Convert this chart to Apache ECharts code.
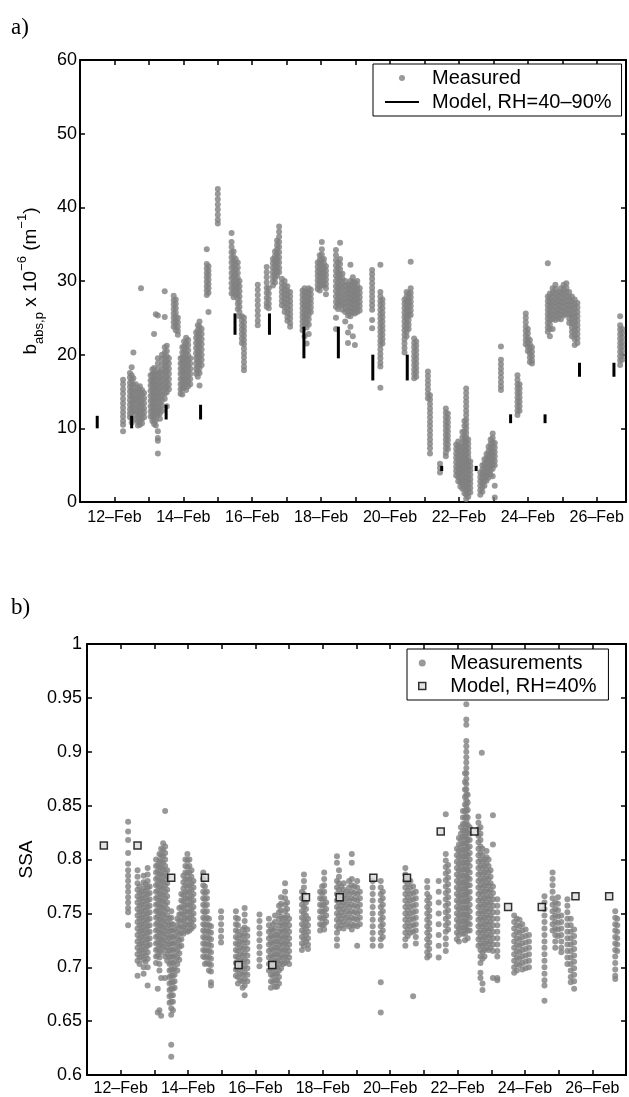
<!DOCTYPE html>
<html><head><meta charset="utf-8">
<script src="https://cdn.jsdelivr.net/npm/echarts@6/dist/echarts.min.js"></script>
<style>html,body{margin:0;padding:0;background:#fff}#c{width:629px;height:1097px}</style>
</head><body><div id="c"></div><script>
// ---------- tick labels ----------
const dateTicks = [12, 14, 16, 18, 20, 22, 24, 26];
const dateLabels = ['12–Feb', '14–Feb', '16–Feb', '18–Feb', '20–Feb', '22–Feb', '24–Feb', '26–Feb'];

// ---------- panel a: measured b_abs,p (each row: [day of Feb, y1, y2, ...]) ----------
const absFeb12to14 = [
  [12.25, 16.6, 16.0, 15.3, 14.7, 14.0, 13.4, 12.8, 12.2, 11.6, 11.0, 10.5, 9.6],
  [12.45, 17.5, 16.9, 16.2, 15.6, 15.0, 14.4, 13.8, 13.2, 12.6, 12.0, 11.5],
  [12.50, 18.3, 17.2, 16.5, 15.8, 15.1, 14.3, 13.5, 12.8, 12.1, 11.4, 10.8],
  [12.55, 20.3, 16.8, 15.9, 15.1, 14.4, 13.7, 13.0, 12.3],
  [12.62, 16.0, 15.2, 14.5, 13.9, 13.2, 12.5, 11.9, 11.2],
  [12.68, 15.5, 14.9, 14.2, 13.6, 12.9, 12.3, 11.6, 10.9, 10.4],
  [12.74, 15.7, 15.0, 14.3, 13.6, 13.0, 12.4, 11.8, 11.1, 10.5],
  [12.77, 29.0],
  [12.80, 15.2, 14.6, 13.9, 13.2, 12.6, 11.9, 11.3, 10.7],
  [12.86, 14.8, 14.1, 13.4, 12.7, 12.1, 11.5],
  [13.05, 17.2, 16.5, 15.8, 15.1, 14.4, 13.7, 13.0, 12.3, 11.6],
  [13.10, 18.0, 17.3, 16.6, 15.9, 15.2, 14.5, 13.8, 13.1, 12.4, 11.7, 11.0],
  [13.15, 22.8, 18.2, 17.5, 16.8, 16.1, 15.4, 14.7, 14.0, 13.3, 12.6, 11.9, 11.2, 10.6],
  [13.20, 25.5, 17.4, 16.7, 16.0, 15.3, 14.6, 13.9, 13.2, 12.5, 11.8, 11.1, 10.4],
  [13.26, 25.3, 19.5, 18.8, 18.1, 17.4, 16.7, 16.0, 15.3, 14.6, 13.9, 13.2, 12.5, 11.8, 9.6, 8.7, 8.3, 6.6],
  [13.32, 17.6, 16.9, 16.2, 15.5, 14.8, 14.1, 13.4, 12.7, 12.0, 11.3],
  [13.38, 20.0, 19.4, 18.7, 18.0, 17.3, 16.6, 15.9, 15.2, 14.5, 13.8, 13.1, 12.4],
  [13.46, 28.6, 25.1, 21.0, 20.3, 19.6, 18.9, 18.2, 17.5, 16.8, 16.1, 15.4, 14.7, 14.0],
  [13.52, 21.2, 20.5, 19.8, 19.1, 18.4, 17.7, 17.0, 16.3, 15.6, 14.9, 13.0],
  [13.58, 19.5, 18.8, 18.1, 17.4, 16.7, 16.0, 15.3],
  [13.72, 28.0, 27.4, 26.8, 26.2, 25.6, 25.0, 24.4, 23.8],
  [13.78, 27.5, 26.9, 26.3, 25.7, 25.1, 24.5, 23.9, 23.3],
  [13.84, 25.0, 24.4, 23.8, 23.2, 22.7],
  [13.92, 19.5, 18.8, 18.1, 17.4, 16.7, 16.0, 15.3, 14.7],
  [13.97, 21.0, 20.3, 19.6, 18.9, 18.2, 17.5, 16.8, 16.1, 15.4, 14.6],
  [14.02, 21.8, 21.1, 20.4, 19.7, 19.0, 18.3, 17.6, 16.9, 16.2, 15.5],
  [14.08, 22.3, 21.6, 20.9, 20.2, 19.5, 18.8, 18.1, 17.4, 16.7, 16.0, 15.2],
  [14.14, 22.0, 21.3, 20.6, 19.9, 19.2, 18.5, 17.8, 17.1, 16.4, 15.7],
  [14.20, 19.5, 18.8, 18.1, 17.4, 16.7, 16.0]
];
const absFeb14to17 = [
  [14.37, 23.0, 22.3, 21.6, 20.9, 20.2, 19.5, 18.8, 18.1, 17.4],
  [14.42, 24.0, 23.3, 22.6, 21.9, 21.2, 20.5, 19.8, 19.1, 18.4, 17.7, 17.0],
  [14.47, 24.5, 23.8, 23.1, 22.4, 21.7, 21.0, 20.3, 19.6, 18.9, 18.2, 17.5, 15.8],
  [14.53, 23.5, 22.8, 22.1, 21.4, 20.7, 20.0, 19.3, 18.6],
  [14.68, 34.3, 32.3, 31.7, 31.1, 30.5, 29.9, 29.3, 28.7, 28.1],
  [14.73, 32.0, 31.4, 30.8, 30.2, 29.6, 29.0, 28.4, 25.8],
  [15.00, 42.5, 41.8, 41.1, 40.4, 39.7, 39.0, 38.3, 37.8],
  [15.40, 36.5, 35.3, 34.6, 33.9, 33.2, 32.5, 31.8, 31.1, 30.4, 29.7, 29.0, 28.3],
  [15.46, 34.0, 33.3, 32.6, 31.9, 31.2, 30.5, 29.8, 29.1, 28.4, 27.8],
  [15.52, 33.0, 32.3, 31.6, 30.9, 30.2, 29.5, 28.8, 28.1],
  [15.58, 32.5, 31.8, 31.1, 30.4, 29.7, 29.0, 28.3, 27.6, 26.9, 26.2],
  [15.63, 30.0, 29.3, 28.6, 27.9, 27.2, 26.5, 25.8, 25.2],
  [15.70, 25.2, 24.6, 24.0, 23.4, 22.8, 22.2, 21.6],
  [15.76, 25.0, 24.4, 23.8, 23.2, 22.6, 22.0, 21.4, 20.8, 20.2, 19.6, 19.0, 18.4, 17.9],
  [16.16, 29.5, 28.8, 28.1, 27.4, 26.7, 26.0, 25.3, 24.6, 24.0],
  [16.42, 31.9, 31.2, 30.5, 29.8, 29.1, 28.4, 27.7, 27.0, 26.5],
  [16.48, 29.0, 28.3, 27.6, 26.9, 26.3],
  [16.60, 33.0, 32.4, 31.8, 31.2, 30.6, 30.0, 29.4],
  [16.66, 34.0, 33.4, 32.8, 32.2, 31.6, 31.0, 30.4, 29.8],
  [16.72, 35.5, 34.9, 34.3, 33.7, 33.1, 32.5, 31.9, 31.3, 30.7],
  [16.78, 37.4, 36.7, 36.0, 35.3, 34.6, 33.9, 33.2, 32.5, 31.8, 31.2],
  [16.86, 30.3, 29.7, 29.1, 28.5, 27.9, 27.3, 26.7],
  [16.94, 30.0, 29.4, 28.8, 28.2, 27.6, 27.0, 26.4, 25.8],
  [17.02, 29.3, 28.7, 28.1, 27.5, 26.9, 26.3, 25.7, 25.1, 24.6],
  [17.10, 28.5, 27.9, 27.3, 26.7, 26.1, 25.5, 24.9, 24.3, 23.8]
];
const absFeb17to20 = [
  [17.46, 28.7, 28.1, 27.5, 26.9, 26.3, 25.7, 25.1, 24.5, 23.9, 23.3],
  [17.52, 29.0, 28.4, 27.8, 27.2, 26.6, 26.0, 25.4, 24.8, 24.2, 22.5],
  [17.58, 28.5, 27.9, 27.3, 26.7, 26.1, 25.5, 24.9, 24.3, 23.7, 21.5],
  [17.64, 29.0, 28.4, 27.8, 27.2, 26.6, 26.0, 25.4, 24.8, 24.1, 22.8],
  [17.70, 28.8, 28.2, 27.6, 27.0, 26.4, 25.8],
  [17.90, 32.5, 31.9, 31.3, 30.7, 30.1, 29.5, 28.9],
  [17.96, 33.5, 32.9, 32.3, 31.7, 31.1, 30.5, 29.9, 29.3, 28.7],
  [18.02, 35.3, 34.3, 33.6, 32.9, 32.2, 31.5, 30.8, 30.1, 29.4],
  [18.08, 33.0, 32.4, 31.8, 31.2, 30.6, 30.0, 29.4],
  [18.14, 32.0, 31.4, 30.8, 30.2, 29.6, 29.0, 28.2],
  [18.43, 34.2, 33.5, 32.8, 32.1, 31.4, 30.7, 30.0, 29.3, 28.6, 27.9, 27.2, 26.5, 25.0, 23.5],
  [18.49, 32.5, 31.8, 31.1, 30.4, 29.7, 29.0, 28.3, 27.6, 26.9, 26.2],
  [18.55, 35.2, 33.0, 32.3, 31.6, 30.9, 30.2, 29.5, 28.8, 28.1, 27.4, 26.7],
  [18.62, 31.0, 30.3, 29.6, 28.9, 28.2, 27.5, 26.8, 26.1],
  [18.70, 30.0, 29.4, 28.8, 28.2, 27.6, 27.0, 26.4, 25.8, 24.5],
  [18.78, 29.5, 28.9, 28.3, 27.7, 27.1, 26.5, 25.9, 25.3, 23.0, 21.6],
  [18.85, 32.2, 30.0, 29.4, 28.8, 28.2, 27.6, 27.0, 26.4, 25.8, 25.2, 23.8],
  [18.92, 30.5, 29.9, 29.3, 28.7, 28.1, 27.5, 26.9, 26.3, 25.7, 22.5],
  [18.98, 29.8, 29.2, 28.6, 28.0, 27.4, 26.8, 26.2, 25.6, 21.3],
  [19.05, 30.0, 29.4, 28.8, 28.2, 27.6, 27.0, 26.4, 25.8],
  [19.12, 29.0, 28.4, 27.8, 27.2, 26.6, 26.0],
  [19.48, 31.5, 30.9, 30.3, 29.7, 29.1, 28.5, 27.9, 27.3, 26.7, 26.1, 24.7, 23.6],
  [19.72, 32.2, 28.5, 27.9, 27.3, 26.7, 26.1, 25.5, 24.9, 24.3, 23.7, 23.1, 22.5, 21.9, 21.3, 20.7, 20.1, 19.5, 18.9, 18.4, 15.5],
  [19.78, 27.5, 26.9, 26.3, 25.7, 25.1, 24.5, 23.9, 23.3, 22.7, 22.1, 21.5]
];
const absFeb20to23 = [
  [20.42, 27.5, 26.9, 26.3, 25.7, 25.1, 24.5, 23.9, 23.3, 22.7, 22.1, 21.5, 20.9, 20.3],
  [20.48, 28.5, 27.9, 27.3, 26.7, 26.1, 25.5, 24.9, 24.3, 23.7, 23.1, 22.5],
  [20.54, 28.3, 27.7, 27.1, 26.5, 25.9, 25.3, 24.7, 24.1, 23.5],
  [20.60, 32.6, 29.0, 28.4, 27.8, 27.2, 26.6, 26.0, 25.4],
  [20.70, 22.2, 21.6, 21.0, 20.4, 19.8, 19.2, 18.6, 18.0, 17.4, 16.8],
  [20.76, 21.8, 21.2, 20.6, 20.0, 19.4, 18.8, 18.2, 17.6, 17.0],
  [21.10, 17.7, 17.1, 16.5, 15.9, 15.3, 14.7, 14.1],
  [21.16, 14.5, 13.9, 13.3, 12.7, 12.1, 11.5, 10.9, 10.3, 9.7, 9.1, 8.5, 7.9, 7.3, 6.6],
  [21.45, 5.2, 4.6, 4.0],
  [21.62, 12.7, 12.1, 11.5, 10.9, 10.3, 9.7, 9.1, 8.5, 7.9, 7.3, 6.7, 6.2],
  [21.68, 12.0, 11.4, 10.8, 10.2, 9.6, 9.0, 8.4, 7.8, 7.2],
  [21.92, 7.8, 7.2, 6.6, 6.0, 5.4, 4.8, 4.2, 3.6],
  [21.98, 8.2, 7.6, 7.0, 6.4, 5.8, 5.2, 4.6, 4.0, 3.4, 2.8],
  [22.04, 7.5, 6.9, 6.3, 5.7, 5.1, 4.5, 3.9, 3.3, 2.7, 2.1],
  [22.10, 9.5, 8.8, 8.1, 7.4, 6.7, 6.0, 5.4, 4.8, 4.2, 3.6, 3.0, 2.4, 1.8],
  [22.16, 11.0, 10.3, 9.6, 8.9, 8.2, 7.5, 6.8, 6.1, 5.4, 4.7, 4.0, 3.3, 2.6, 1.9, 1.2],
  [22.21, 15.4, 14.8, 14.2, 13.6, 13.0, 12.4, 11.8, 11.2, 10.6, 10.0, 9.4, 8.8, 8.2, 7.6, 7.0, 6.4, 5.8, 5.2, 4.6, 4.0, 3.4, 2.8, 2.2, 1.6, 1.0, 0.4],
  [22.27, 8.5, 7.9, 7.3, 6.7, 6.1, 5.5, 4.9, 4.3, 3.7, 3.1, 2.5, 1.9, 1.3, 0.7],
  [22.33, 5.5, 4.9, 4.3, 3.7, 3.1, 2.5, 1.9, 1.3],
  [22.62, 4.0, 3.4, 2.8, 2.2, 1.6, 1.0],
  [22.68, 5.0, 4.4, 3.8, 3.2, 2.6, 2.0, 1.4],
  [22.74, 5.8, 5.2, 4.6, 4.0, 3.4, 2.8, 2.2],
  [22.80, 6.5, 5.9, 5.3, 4.7, 4.1, 3.5, 2.9],
  [22.86, 7.5, 6.9, 6.3, 5.7, 5.1, 4.5, 3.9, 3.3],
  [22.92, 8.5, 7.9, 7.3, 6.7, 6.1, 5.5, 4.9, 4.3, 3.7],
  [22.98, 9.3, 8.7, 8.1, 7.5, 6.9, 6.3, 5.7, 5.1, 4.5, 3.5],
  [23.04, 8.0, 7.4, 6.8, 6.2, 5.6, 5.0, 2.2, 0.6],
  [23.22, 21.1, 19.3, 18.7, 18.1, 17.5, 16.9, 16.3, 15.7, 15.2]
];
const absFeb23to27 = [
  [23.70, 17.2, 16.6, 16.0, 15.4, 14.8, 14.2, 13.6, 13.0, 12.4, 11.8],
  [23.76, 16.0, 15.4, 14.8, 14.2, 13.6, 13.0, 12.4],
  [23.94, 25.6, 25.0, 24.4, 23.8, 23.2, 22.6, 22.0, 21.4],
  [24.00, 23.5, 22.9, 22.3, 21.7, 21.1, 20.5],
  [24.06, 22.0, 21.4, 20.8, 20.2, 19.6, 19.0],
  [24.12, 21.0, 20.4, 19.8, 19.2, 18.8],
  [24.58, 32.4, 27.9, 27.3, 26.7, 26.1, 25.5, 24.9, 24.3, 23.7, 23.1],
  [24.64, 28.3, 27.7, 27.1, 26.5, 25.9, 25.3, 24.7, 24.1, 23.5, 22.5],
  [24.72, 29.0, 28.4, 27.8, 27.2, 26.6, 26.0, 25.4, 24.8, 23.5],
  [24.80, 29.5, 28.9, 28.3, 27.7, 27.1, 26.5, 25.9, 25.3, 24.7],
  [24.88, 28.5, 27.9, 27.3, 26.7, 26.1, 25.5, 24.9],
  [24.96, 29.0, 28.4, 27.8, 27.2, 26.6, 26.0, 25.4, 24.8],
  [25.04, 29.5, 28.9, 28.3, 27.7, 27.1, 26.5, 25.9, 25.3],
  [25.12, 29.7, 29.1, 28.5, 27.9, 27.3, 26.7, 26.1, 25.5],
  [25.20, 28.5, 27.9, 27.3, 26.7, 26.1, 25.5, 24.9, 24.3],
  [25.28, 27.9, 27.3, 26.7, 26.1, 25.5, 24.9, 24.3, 23.7, 23.1, 22.5],
  [25.36, 27.5, 26.9, 26.3, 25.7, 25.1, 24.5, 23.9, 23.3, 22.7, 22.1, 21.3],
  [25.44, 27.0, 26.4, 25.8, 25.2, 24.6, 24.0, 23.4, 22.8, 22.2, 21.6],
  [26.68, 25.2, 24.0, 23.4, 22.8, 22.2, 21.6, 21.0, 20.4, 19.8, 19.2, 18.6],
  [26.74, 23.5, 22.9, 22.3, 21.7, 21.1, 20.5, 19.9, 19.3]
];

// ---------- model (twice per day) ----------
const modelDays = [11.5, 12.5, 13.5, 14.5, 15.5, 16.5, 17.5, 18.5, 19.5, 20.5, 21.5, 22.5, 23.5, 24.5, 25.5, 26.5];
const modelAbsLow = [10.0, 10.0, 11.2, 11.2, 22.7, 22.7, 19.5, 19.5, 16.5, 16.5, 4.2, 4.2, 10.7, 10.7, 17.0, 17.0];
const modelAbsHigh = [11.7, 11.7, 13.2, 13.2, 25.6, 25.6, 23.8, 23.8, 20.0, 20.0, 4.9, 4.9, 11.9, 11.9, 18.9, 18.9];
const modelSSA = [0.813, 0.813, 0.783, 0.783, 0.702, 0.702, 0.765, 0.765, 0.783, 0.783, 0.826, 0.826, 0.756, 0.756, 0.766, 0.766];

// ---------- panel b: measured SSA ----------
const ssaFeb12to14 = [
  [12.22, .835, .826, .818, .806, .796, .790, .785, .780, .775, .770, .765, .760, .755, .751, .739],
  [12.50, .790, .784, .778, .772, .766, .760, .754, .748, .742, .736, .730, .724, .718, .712, .706, .692],
  [12.56, .775, .769, .763, .757, .751, .745, .739, .733, .727, .721, .715, .709, .703],
  [12.62, .770, .764, .758, .752, .746, .740, .734, .728, .722, .716, .710],
  [12.68, .785, .779, .773, .767, .761, .755, .749, .743, .737, .731, .725, .719, .713, .707, .700, .694],
  [12.74, .777, .771, .765, .759, .753, .747, .741, .735, .729, .723, .717, .711, .705],
  [12.80, .792, .786, .780, .774, .768, .762, .756, .750, .744, .738, .732, .726, .720, .714, .708, .700, .683],
  [12.86, .775, .769, .763, .757, .751, .745, .739, .733, .727, .721],
  [13.05, .800, .794, .788, .782, .776, .770, .764, .758, .752, .746, .740, .734, .728, .722, .716, .710, .704],
  [13.10, .795, .789, .783, .777, .771, .765, .759, .753, .747, .741, .735, .729, .723, .717, .711, .680, .658],
  [13.15, .805, .799, .793, .787, .781, .775, .769, .763, .757, .751, .745, .739, .733, .727, .721, .715, .709, .703, .697, .660],
  [13.20, .810, .804, .798, .792, .786, .780, .774, .768, .762, .756, .750, .744, .738, .732, .726, .720, .714, .690, .655],
  [13.26, .815, .809, .803, .797, .791, .785, .779, .773, .767, .761, .755, .749, .743, .737, .731, .725, .719],
  [13.32, .845, .812, .806, .800, .794, .788, .782, .776, .770, .764, .758, .752, .746, .740, .734, .728, .722, .716, .710, .690],
  [13.38, .790, .784, .778, .772, .766, .760, .754, .748, .742, .736, .730, .724, .718, .712, .706],
  [13.45, .745, .739, .733, .727, .721, .715, .709, .703, .697, .691, .685, .679, .673, .667],
  [13.50, .752, .746, .740, .734, .728, .722, .716, .710, .704, .698, .692, .686, .680, .674, .668, .662, .656, .628, .617],
  [13.55, .740, .734, .728, .722, .716, .710, .704, .698, .692, .686, .680, .674, .668, .660],
  [13.60, .735, .729, .723, .717, .711, .705, .699, .693, .687, .681],
  [13.68, .745, .739, .733, .727, .721, .715, .709, .703, .697],
  [13.74, .755, .749, .743, .737, .731, .725, .719, .713, .707],
  [13.80, .768, .762, .756, .750, .744, .738, .732, .726, .720],
  [13.86, .785, .779, .773, .767, .761, .755, .749, .743, .737, .731],
  [13.92, .800, .794, .788, .782, .776, .770, .764, .758, .752, .746, .740, .734],
  [13.98, .805, .799, .793, .787, .781, .775, .769, .763, .757, .751, .745, .739, .733],
  [14.04, .800, .794, .788, .782, .776, .770, .764, .758, .752, .746, .740, .734],
  [14.10, .790, .784, .778, .772, .766, .760, .754, .748, .742, .736],
  [14.16, .780, .774, .768, .762, .756, .750, .744, .738]
];
const ssaFeb14to18 = [
  [14.45, .788, .782, .776, .770, .764, .758, .752, .746, .740, .734, .728, .722, .716, .710],
  [14.50, .775, .769, .763, .757, .751, .745, .739, .733, .727, .721, .715, .709, .703],
  [14.56, .770, .764, .758, .752, .746, .740, .734, .728, .722, .716, .710, .704],
  [14.62, .745, .739, .733, .727, .721, .715, .709, .703, .697],
  [14.68, .738, .732, .726, .720, .714, .708, .702, .696, .686, .683],
  [14.98, .752, .746, .740, .734, .728, .723],
  [15.42, .752, .746, .740, .734, .728, .722, .716, .710, .704, .698, .692],
  [15.48, .745, .739, .733, .727, .721, .715, .709, .703, .697, .691, .685],
  [15.55, .730, .724, .718, .712, .706, .700, .694, .688],
  [15.62, .735, .729, .723, .717, .711, .705, .699, .693, .687, .681],
  [15.68, .755, .749, .743, .737, .731, .725, .719, .713, .707, .701, .695, .689, .683, .674],
  [15.76, .735, .729, .723, .717, .711, .705, .699, .693, .687],
  [16.12, .749, .743, .737, .731, .725, .719, .713, .707, .701],
  [16.40, .745, .739, .733, .727, .721, .715, .709, .703, .697],
  [16.46, .735, .729, .723, .717, .711, .705, .699, .693, .687, .681],
  [16.52, .740, .734, .728, .722, .716, .710, .704, .698, .692, .686],
  [16.58, .748, .742, .736, .730, .724, .718, .712, .706, .700, .694, .688, .682],
  [16.64, .730, .724, .718, .712, .706, .700, .694, .688, .682],
  [16.70, .757, .751, .745, .739, .733, .727, .721, .715, .709, .703, .697, .691, .685],
  [16.76, .765, .759, .753, .747, .741, .735, .729, .723, .717, .711, .705, .699],
  [16.82, .745, .739, .733, .727, .721, .715, .709, .703],
  [16.88, .778, .770, .764, .758, .752, .746, .740, .734, .728, .722, .716, .710, .704],
  [16.94, .760, .754, .748, .742, .736, .730, .724, .718, .712, .706],
  [17.00, .745, .739, .733, .727, .721, .715, .709, .703],
  [17.38, .770, .764, .758, .752, .746, .740, .734, .728, .722, .716],
  [17.44, .786, .780, .774, .768, .762, .756, .750, .744, .738, .732, .726, .720],
  [17.50, .760, .754, .748, .742, .736, .730, .724],
  [17.56, .745, .739, .733, .727, .721, .717],
  [17.92, .770, .764, .758, .752, .746, .740, .734],
  [17.98, .775, .769, .763, .757, .751, .745, .739],
  [18.04, .788, .782, .776, .770, .764, .758, .752, .746, .740, .735],
  [18.10, .760, .754, .748, .742]
];
const ssaFeb18to22 = [
  [18.42, .803, .797, .780, .774, .768, .762, .756, .750, .744, .738, .732, .726, .720],
  [18.48, .790, .784, .778, .772, .766, .760, .754, .748, .742, .736],
  [18.55, .775, .769, .763, .757, .751, .745, .739],
  [18.62, .778, .772, .766, .760, .754, .748, .742, .736],
  [18.70, .770, .764, .758, .752, .746, .740],
  [18.78, .780, .774, .768, .762, .756, .750, .744, .738],
  [18.86, .805, .797, .782, .776, .770, .764, .758, .752, .746, .740, .735],
  [18.94, .775, .769, .763, .757, .751, .745, .739],
  [19.02, .780, .774, .768, .762, .756, .750, .744, .738, .720],
  [19.10, .770, .764, .758, .752, .746, .740],
  [19.48, .780, .774, .768, .762, .756, .750, .744, .738, .732, .726, .720],
  [19.72, .780, .774, .768, .762, .756, .750, .744, .738, .732, .726, .720, .686, .658],
  [19.78, .770, .764, .758, .752, .746, .740, .734, .728],
  [20.45, .792, .786, .780, .774, .768, .762, .756, .750, .744, .738, .732, .726, .720],
  [20.52, .783, .777, .771, .765, .759, .753, .747, .741, .735, .729],
  [20.60, .780, .774, .768, .762, .756, .750, .744, .738, .732],
  [20.68, .775, .769, .763, .757, .751, .745, .739, .733, .673],
  [20.76, .770, .764, .758, .752, .746, .740, .734, .728, .722],
  [21.10, .780, .774, .768, .762, .756, .750, .744, .738, .732, .726, .720, .714, .709],
  [21.16, .765, .759, .753, .747, .741, .735, .729, .723, .717, .711],
  [21.44, .780, .770, .760, .750, .740, .730, .720, .709],
  [21.65, .842, .805, .799, .793, .787, .781, .775, .769, .763, .757, .751, .745, .739, .733, .727, .721, .715],
  [21.72, .795, .789, .783, .777, .771, .765, .759, .753, .747, .741, .735],
  [21.98, .810, .804, .798, .792, .786, .780, .774, .768, .762, .756, .750, .744, .738, .732, .726],
  [22.04, .820, .814, .808, .802, .796, .790, .784, .778, .772, .766, .760, .754, .748, .742, .736, .730, .724],
  [22.10, .830, .824, .818, .812, .806, .800, .794, .788, .782, .776, .770, .764, .758, .752, .746, .740, .734],
  [22.16, .845, .839, .833, .827, .821, .815, .809, .803, .797, .791, .785, .779, .773, .767, .761, .755, .749, .743, .737, .731],
  [22.22, .880, .872, .865, .858, .851, .845, .839, .833, .827, .821, .815, .809, .803, .797, .791, .785, .779, .773, .767, .761, .755, .749, .743, .737, .731, .725],
  [22.26, .944, .930, .925, .910, .905, .900, .895, .890, .885, .880, .875, .870, .865, .860, .855, .850, .845, .840, .835, .830, .825, .820, .815, .810, .805, .800, .795, .790, .785, .780, .775, .770, .765, .760, .755, .750, .745, .740, .735],
  [22.30, .860, .853, .846, .839, .832, .825, .818, .811, .804, .797, .790, .783, .776, .769, .762, .755, .748, .741, .734, .727],
  [22.36, .830, .824, .818, .812, .806, .800, .794, .788, .782, .776, .770, .764, .758, .752, .746, .740, .734]
];
const ssaFeb22to27 = [
  [22.62, .840, .834, .828, .822, .816, .810, .804, .798, .792, .786, .780, .774, .768, .762, .756, .750, .744, .738, .732, .726, .720],
  [22.68, .830, .824, .818, .812, .806, .800, .794, .788, .782, .776, .770, .764, .758, .752, .746, .740, .734, .728, .722, .716, .710, .704, .695, .690],
  [22.72, .899],
  [22.74, .810, .804, .798, .792, .786, .780, .774, .768, .762, .756, .750, .744, .738, .732, .726, .720, .714, .708, .685, .679],
  [22.80, .800, .794, .788, .782, .776, .770, .764, .758, .752, .746, .740, .734, .728, .722, .716, .710],
  [22.86, .808, .802, .796, .790, .784, .778, .772, .766, .760, .754, .748, .742, .736, .730, .724, .718],
  [22.92, .800, .794, .788, .782, .776, .770, .764, .758, .752, .746, .740, .734, .728, .722, .716],
  [22.98, .790, .784, .778, .772, .766, .760, .754, .748, .742, .736, .730, .724, .718],
  [23.05, .841, .814, .775, .769, .763, .757, .751, .745, .739, .733, .727, .721, .715, .690],
  [23.18, .763, .757, .751, .745, .739, .733, .727, .721, .715, .710, .690, .688],
  [23.68, .748, .742, .736, .730, .724, .718, .712, .706, .700, .695],
  [23.76, .745, .739, .733, .727, .721, .715, .709, .703, .697],
  [23.84, .744, .738, .732, .726, .720, .714, .708, .702],
  [23.92, .740, .734, .728, .722, .716, .710, .704, .698],
  [24.02, .735, .729, .723, .717, .711, .705, .699],
  [24.12, .730, .724, .718, .712, .706, .700],
  [24.58, .766, .760, .754, .748, .742, .736, .730, .724, .718, .712, .706, .700, .694, .688, .683, .669],
  [24.82, .788, .782, .776, .770, .764, .758, .752, .746, .740, .734],
  [24.90, .760, .754, .748, .742, .736, .730, .724, .718],
  [24.98, .765, .759, .753, .747, .741, .735, .729],
  [25.08, .748, .742, .736, .730, .724, .718, .714],
  [25.26, .763, .757, .751, .745, .739, .733, .727, .721, .715, .709, .703],
  [25.36, .745, .739, .733, .727, .721, .715, .709, .703, .697, .691, .686],
  [25.46, .735, .729, .723, .717, .711, .705, .699, .693, .687, .680],
  [26.68, .752, .746, .740, .734, .728, .722, .716, .710, .704, .698, .692, .689],
  [26.74, .745, .739, .733, .727, .721, .715]
];

// ---------- build ----------
function toPoints(groups) {
  const out = [];
  groups.forEach(g => g.forEach(row => { for (let i = 1; i < row.length; i++) out.push([row[0], row[i]]); }));
  return out;
}
const absPoints = toPoints([absFeb12to14, absFeb14to17, absFeb17to20, absFeb20to23, absFeb23to27]);
const ssaPoints = toPoints([ssaFeb12to14, ssaFeb14to18, ssaFeb18to22, ssaFeb22to27]);
const modelAbsData = modelDays.map((d, i) => [d, modelAbsLow[i], modelAbsHigh[i]]);
const modelSSAData = modelDays.map((d, i) => [d, modelSSA[i]]);

const FONT = 'Liberation Sans';
const fmtDate = v => {
  const r = Math.round(v);
  if (Math.abs(v - r) > 1e-6) return '';
  const i = dateTicks.indexOf(r);
  return i >= 0 ? dateLabels[i] : '';
};
function xAx(gridIndex, position, max, showLabel, margin) {
  return {
    type: 'value', gridIndex, position, min: 11, max, interval: 1,
    axisLine: { show: true, onZero: false, lineStyle: { color: '#000', width: 2 } },
    axisTick: { show: true, inside: true, length: 5, lineStyle: { color: '#000', width: 1.5 } },
    axisLabel: { show: showLabel, interval: 0, hideOverlap: false, margin, fontFamily: FONT, fontSize: 16, color: '#000', formatter: fmtDate },
    splitLine: { show: false }
  };
}
function yAx(gridIndex, position, min, max, interval, showLabel, margin, fmt) {
  return {
    type: 'value', gridIndex, position, min, max, interval,
    axisLine: { show: true, onZero: false, lineStyle: { color: '#000', width: 2 } },
    axisTick: { show: true, inside: true, length: 5, lineStyle: { color: '#000', width: 1.5 } },
    axisLabel: { show: showLabel, margin, fontFamily: FONT, fontSize: 18, color: '#000', formatter: fmt },
    splitLine: { show: false }
  };
}

const chart = echarts.init(document.getElementById('c'), null, { renderer: 'canvas' });
const yA = yAx(0, 'left', 0, 60, 10, true, 3, v => String(v));
yA.name = '{t|b}{sub|abs,p}{t| x 10}{sup|−6}{t| (m}{sup|−1}{t|)}';
yA.nameLocation = 'middle';
yA.nameRotate = 90;
yA.nameGap = 26;
yA.nameTextStyle = {
  fontFamily: FONT, color: '#000',
  rich: {
    t: { fontFamily: FONT, fontSize: 19, lineHeight: 30, color: '#000' },
    sub: { fontFamily: FONT, fontSize: 13, lineHeight: 13, verticalAlign: 'bottom', color: '#000' },
    sup: { fontFamily: FONT, fontSize: 13, lineHeight: 13, verticalAlign: 'top', color: '#000' }
  }
};
const yB = yAx(1, 'left', 0.6, 1, 0.05, true, 5, v => String(+v.toFixed(2)));
yB.name = 'SSA';
yB.nameLocation = 'middle';
yB.nameRotate = 90;
yB.nameGap = 50;
yB.nameTextStyle = { fontFamily: FONT, fontSize: 19, color: '#000' };

chart.setOption({
  animation: false,
  backgroundColor: '#fff',
  title: [
    { text: 'a)', left: 11, top: 16, padding: 0, textStyle: { fontFamily: 'Liberation Serif', fontSize: 23, fontWeight: 'normal', color: '#000' } },
    { text: 'b)', left: 11, top: 596, padding: 0, textStyle: { fontFamily: 'Liberation Serif', fontSize: 23, fontWeight: 'normal', color: '#000' } }
  ],
  grid: [
    { left: 80, top: 60, width: 548, height: 442 },
    { left: 87, top: 644, width: 539, height: 433 }
  ],
  xAxis: [
    xAx(0, 'bottom', 26.85, true, 8),
    xAx(0, 'top', 26.85, false, 8),
    xAx(1, 'bottom', 27, true, 6),
    xAx(1, 'top', 27, false, 6)
  ],
  yAxis: [
    yA,
    yAx(0, 'right', 0, 60, 10, false, 3),
    yB,
    yAx(1, 'right', 0.6, 1, 0.05, false, 5)
  ],
  legend: [
    {
      orient: 'vertical', left: 373, top: 64, selectedMode: false,
      backgroundColor: '#fff', borderColor: '#000', borderWidth: 1, borderRadius: 0, padding: [4, 10, 4, 12],
      itemWidth: 34, itemHeight: 6, itemGap: 4, symbolKeepAspect: true,
      textStyle: { fontFamily: FONT, fontSize: 20, color: '#000', padding: [0, 0, 0, 8] },
      data: [
        { name: 'Measured', icon: 'circle', itemStyle: { color: '#808080' } },
        { name: 'Model, RH=40–90%', icon: 'path://M0,0H34V2H0Z', itemStyle: { color: '#000' } }
      ]
    },
    {
      orient: 'vertical', left: 407, top: 649, selectedMode: false,
      backgroundColor: '#fff', borderColor: '#000', borderWidth: 1, borderRadius: 0, padding: [4, 12, 4, 11],
      itemWidth: 34, itemHeight: 7, itemGap: 3, symbolKeepAspect: true,
      textStyle: { fontFamily: FONT, fontSize: 20, color: '#000', padding: [0, 0, 0, 6] },
      data: [
        { name: 'Measurements', icon: 'circle', itemStyle: { color: '#808080' } },
        { name: 'Model, RH=40%', icon: 'path://M0,0H10V10H0Z', itemStyle: { color: '#dcdcdc', borderColor: '#000', borderWidth: 1.5 } }
      ]
    }
  ],
  series: [
    { name: 'Measured', type: 'scatter', xAxisIndex: 0, yAxisIndex: 0, data: absPoints, symbolSize: 6, itemStyle: { color: '#808080' }, silent: true, z: 2 },
    {
      name: 'Model, RH=40–90%', type: 'custom', xAxisIndex: 0, yAxisIndex: 0, data: modelAbsData,
      encode: { x: 0, y: [1, 2] }, itemStyle: { color: '#000' }, z: 3, silent: true,
      renderItem: (params, api) => {
        const p1 = api.coord([api.value(0), api.value(1)]);
        const p2 = api.coord([api.value(0), api.value(2)]);
        return { type: 'rect', shape: { x: p1[0] - 1.5, y: p2[1], width: 3, height: p1[1] - p2[1] }, style: { fill: '#000' } };
      }
    },
    { name: 'Measurements', type: 'scatter', xAxisIndex: 2, yAxisIndex: 2, data: ssaPoints, symbolSize: 6, itemStyle: { color: '#808080' }, silent: true, z: 2 },
    { name: 'Model, RH=40%', type: 'scatter', xAxisIndex: 2, yAxisIndex: 2, data: modelSSAData, symbol: 'rect', symbolSize: 7, itemStyle: { color: '#dcdcdc', borderColor: '#000', borderWidth: 1.5 }, silent: true, z: 3 }
  ]
});
</script></body></html>
